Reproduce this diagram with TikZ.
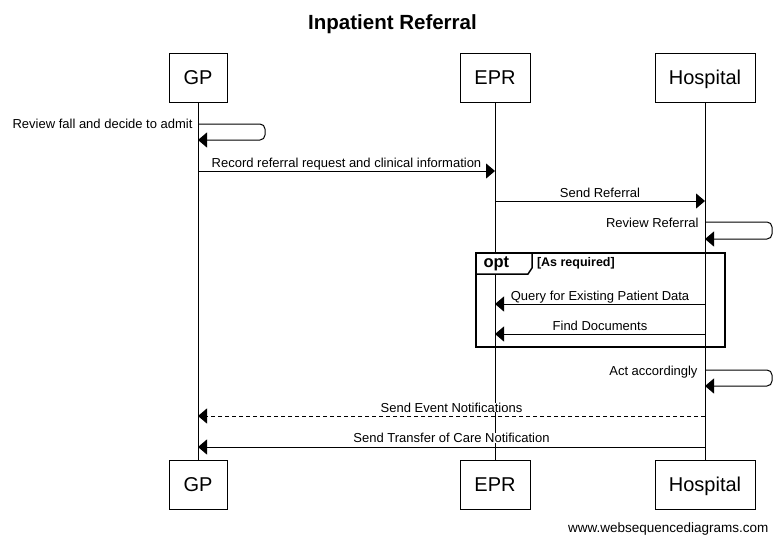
\documentclass[tikz,border=0pt]{standalone}
\usepackage{fontspec}
\setmainfont{Liberation Sans}
\usetikzlibrary{arrows.meta}

\begin{document}
\begin{tikzpicture}[x=1pt,y=-1pt,line width=1pt,>={Triangle[length=9pt,width=15pt]}]
	\def \actortop{77.5}
	\def \actorbot{484.5}
	\def \gpx{198}
	\def \eprx{495}
	\def \hospx{705}
	\tikzstyle{actor}=[draw,fill=white,inner sep=0pt,minimum height=49pt,text height=14.3pt,text depth=0pt,font=\fontsize{20}{24}\selectfont]
	\tikzstyle{msg}=[->]
	\tikzstyle{reply}=[->,dash pattern=on 4pt off 3pt]
	\tikzstyle{self}=[->,rounded corners=5pt]
	\tikzstyle{m-label}=[font=\fontsize{13}{15}\selectfont,fill=white,inner ysep=0pt,inner xsep=1pt,anchor=base]
	\useasboundingbox[fill=white] (0,0) rectangle (783,544);
	% title
	\node[font=\bfseries\fontsize{20.5}{24}\selectfont,anchor=base] (title) at (392.5,29.3) {Inpatient Referral};
	
	% participants (top)
	\node[actor,minimum width=58pt] 	(gp)	at (\gpx,\actortop)		{GP};
	\node[actor,minimum width=70pt] 	(epr)	at (\eprx,\actortop)	{EPR};
	\node[actor,minimum width=100pt] 	(hosp)	at (\hospx,\actortop)	{Hospital};
	
	% participants (bottom)
	\node[actor,minimum width=58pt] 	(gpb)	at (\gpx,\actorbot)		{GP};
	\node[actor,minimum width=70pt] 	(eprb)	at (\eprx,\actorbot)	{EPR};
	\node[actor,minimum width=100pt] 	(hospb)	at (\hospx,\actorbot)	{Hospital};
	
	% lifelines
	\path
		(gp)	edge	(gpb)
		(epr)	edge	(eprb)
		(hosp)	edge	(hospb);
	
	% opt frame
	\draw[line width=1.5pt,fill=white] (476,253) -- (476,274) -- (528,274) -- (532,268) -- (532,253) -- cycle;
	\draw[line width=2pt] (476,253) rectangle (725,347);
	\node[font=\bfseries\fontsize{16.5}{19}\selectfont,inner sep=0pt,anchor=base west] (opt) at (483,267.3) {opt};
	\node[font=\bfseries\fontsize{12.5}{15}\selectfont,inner sep=0pt,anchor=base west] (guard) at (536.5,266) {[As required]};
	
	% messages
	\draw[self] (gp |- 0,124) node[m-label,anchor=base east,xshift=-4pt,yshift=-4pt] {Review fall and decide to admit}
		-- ++(67,0) -- ++(0,16) -- (gp |- 0,140);
	\draw[msg] (gp |- 0,171) -- node[m-label,yshift=4pt] {Record referral request and clinical information} (epr |- 0,171);
	\draw[msg] (epr |- 0,201) -- node[m-label,yshift=4pt] {Send Referral} (hosp |- 0,201);
	\draw[self] (hosp |- 0,222) node[m-label,anchor=base east,xshift=-5pt,yshift=-5.5pt] {Review Referral}
		-- ++(67,0) -- ++(0,17) -- (hosp |- 0,239);
	\draw[msg] (hosp |- 0,304) -- node[m-label,yshift=3.5pt] {Query for Existing Patient Data} (epr |- 0,304);
	\draw[msg] (hosp |- 0,334) -- node[m-label,yshift=3.5pt] {Find Documents} (epr |- 0,334);
	\draw[self] (hosp |- 0,370) node[m-label,anchor=base east,xshift=-6pt,yshift=-5pt] {Act accordingly}
		-- ++(67,0) -- ++(0,16) -- (hosp |- 0,386);
	\draw[reply] (hosp |- 0,416) -- node[m-label,yshift=4pt] {Send Event Notifications} (gp |- 0,416);
	\draw[msg] (hosp |- 0,447) -- node[m-label,yshift=4.5pt] {Send Transfer of Care Notification} (gp |- 0,447);
	
	% footer
	\node[font=\fontsize{13.5}{16}\selectfont,inner sep=0pt,anchor=base east] (www) at (769,532) {www.websequencediagrams.com};
\end{tikzpicture}
\end{document}
